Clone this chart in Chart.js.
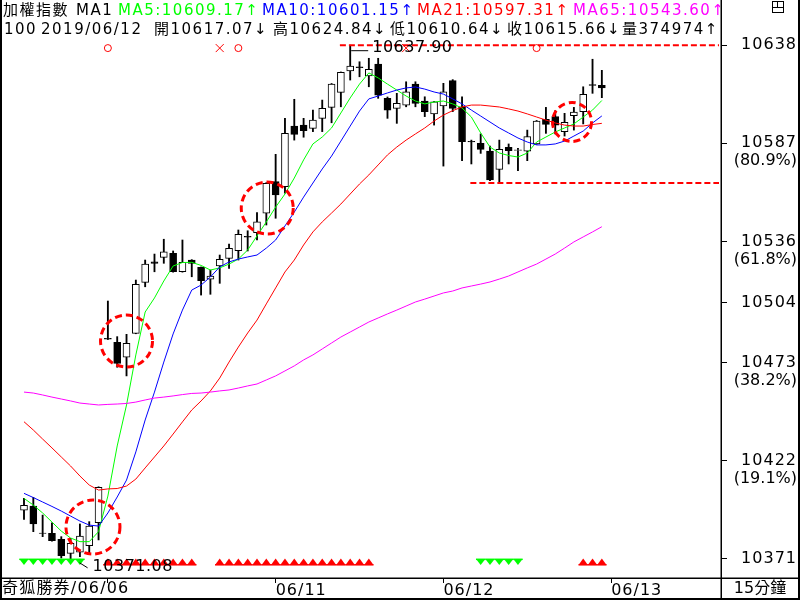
<!DOCTYPE html>
<html><head><meta charset="utf-8">
<script src="https://cdn.jsdelivr.net/npm/chart.js@4.4.1/dist/chart.umd.min.js"></script>
<style>html,body{margin:0;padding:0;background:#fff;overflow:hidden}#wrap{width:800px;height:600px;position:relative}</style>
</head><body><div id="wrap"><canvas id="c" width="800" height="600"></canvas></div>
<script>
// ---------------- DATA ----------------
const candleOpen  = [10396.3,10398.5,10384.5,10384.3,10381.2,10373.9,10374.5,10377.9,10389.8,10485.6,
  10483.6,10475.8,10488.2,10514.7,10525.3,10527.7,10529.8,10520.2,10526.3,10522.5,
  10516.3,10523.2,10527.2,10531.1,10538.6,10540.5,10550.6,10567.0,10564.4,10595.9,
  10596.4,10594.7,10599.9,10605.6,10613.4,10624.5,10626.6,10621.9,10628.1,10610.3,
  10605.1,10606.8,10617.7,10608.9,10602.2,10606.3,10619.5,10605.9,10587.9,10586.9,
  10582.9,10573.4,10584.9,10583.3,10582.9,10586.6,10599.4,10600.8,10593.0,10601.3,
  10603.4,10617.4,10617.07];
const candleHigh  = [10402.5,10403.0,10393.8,10389.8,10382.6,10381.7,10389.2,10390.4,10408.5,10505.0,
  10486.5,10487.7,10515.9,10526.3,10529.4,10537.1,10531.0,10536.7,10526.5,10522.7,
  10521.1,10528.9,10534.6,10541.9,10541.5,10550.9,10566.5,10581.2,10599.9,10609.8,
  10599.9,10604.2,10609.4,10618.0,10624.0,10637.90,10629.3,10631.1,10631.1,10611.0,
  10612.9,10618.9,10618.9,10611.1,10608.7,10618.1,10620.0,10611.1,10588.6,10591.8,
  10585.5,10588.6,10586.6,10584.3,10593.8,10598.8,10605.6,10603.9,10602.5,10605.6,
  10616.3,10630.6,10624.84];
const candleLow   = [10391.6,10385.2,10382.6,10380.3,10371.5,10371.08,10372.2,10373.6,10380.9,10485.0,
  10470.6,10466.1,10488.0,10512.4,10520.2,10524.6,10520.0,10520.0,10517.6,10508.1,
  10508.5,10514.2,10522.0,10526.3,10531.0,10536.7,10544.5,10548.0,10561.0,10588.6,
  10590.1,10593.0,10593.0,10597.6,10605.9,10619.8,10621.5,10616.3,10610.3,10599.9,
  10597.3,10605.9,10605.9,10600.8,10596.4,10575.1,10603.4,10577.9,10576.2,10581.7,
  10567.5,10566.3,10576.2,10572.7,10577.9,10586.4,10592.1,10591.8,10590.7,10593.8,
  10597.0,10612.9,10610.64];
const candleClose = [10398.9,10389.2,10384.3,10380.5,10372.7,10379.1,10382.9,10388.1,10408.2,10485.2,
  10472.6,10483.0,10513.7,10524.2,10524.6,10530.6,10520.2,10525.1,10524.6,10515.6,
  10518.0,10526.7,10532.4,10539.7,10538.2,10546.2,10566.2,10560.1,10592.1,10591.6,
  10593.5,10599.0,10605.1,10617.7,10623.8,10627.1,10626.2,10625.4,10612.0,10604.2,
  10607.7,10613.7,10607.7,10603.4,10608.5,10613.7,10605.1,10587.8,10587.6,10583.8,
  10567.9,10583.8,10583.1,10583.6,10590.4,10598.5,10596.8,10596.4,10597.8,10603.2,
  10612.4,10617.0,10615.66];
const lastVolume = 374974;

const ma5  = [10402.5,10399.0,10394.9,10390.2,10385.5,10381.9,10380.0,10380.0,10385.2,10403.7,
  10429.7,10451.0,10477.0,10499.3,10506.6,10515.4,10523.2,10525.0,10525.1,10523.5,
  10521.1,10522.2,10524.2,10526.8,10531.5,10538.8,10546.1,10553.8,10560.6,10568.9,
  10578.3,10586.6,10590.2,10594.9,10602.7,10610.5,10617.7,10623.5,10620.9,10617.7,
  10614.6,10611.5,10608.9,10607.4,10608.4,10608.9,10607.4,10605.3,10600.6,10592.3,
  10585.0,10581.9,10580.6,10579.8,10581.9,10587.6,10590.2,10592.8,10594.9,10597.0,
  10600.6,10604.2,10609.17];
const ma10 = [10405.1,10402.9,10400.6,10398.3,10395.9,10393.3,10390.7,10388.6,10388.1,10394.9,
  10403.2,10412.0,10426.6,10443.2,10457.7,10473.3,10487.9,10500.3,10510.7,10513.3,
  10517.5,10522.7,10525.3,10526.8,10527.9,10528.9,10532.5,10536.7,10544.0,10551.2,
  10559.0,10566.3,10573.6,10580.3,10588.1,10595.9,10603.7,10610.0,10611.5,10613.1,
  10614.6,10615.7,10616.2,10615.1,10613.6,10612.5,10610.0,10607.4,10604.2,10601.1,
  10598.0,10594.9,10592.3,10589.7,10587.6,10586.1,10586.1,10586.6,10588.1,10590.7,
  10593.3,10597.5,10601.15];
const ma21 = [10442.3,10438.0,10433.3,10428.7,10424.0,10419.3,10414.1,10409.4,10406.8,10407.4,
  10407.6,10408.9,10412.5,10418.3,10424.0,10429.7,10435.9,10442.2,10448.4,10453.1,
  10458.3,10465.0,10473.3,10481.1,10488.4,10495.1,10503.5,10511.8,10520.1,10526.3,
  10534.1,10540.9,10546.1,10550.7,10555.4,10560.6,10565.8,10570.5,10575.7,10580.9,
  10585.0,10588.6,10591.8,10594.9,10598.5,10601.6,10603.9,10605.8,10606.8,10606.8,
  10606.3,10605.8,10604.8,10603.7,10602.2,10600.6,10599.0,10597.5,10596.4,10595.9,
  10595.9,10596.7,10597.31];
const ma65 = [10457.7,10457.2,10456.2,10455.1,10454.1,10453.1,10452.0,10451.5,10451.0,10451.3,
  10451.5,10451.8,10452.5,10453.6,10454.6,10455.1,10455.7,10456.4,10457.0,10457.2,
  10457.7,10458.3,10458.8,10459.8,10460.9,10461.9,10464.0,10466.1,10468.7,10471.3,
  10474.4,10477.0,10480.1,10483.2,10486.3,10488.9,10491.5,10494.1,10496.2,10498.3,
  10500.3,10502.4,10504.5,10506.0,10507.6,10509.2,10510.2,10511.8,10512.8,10513.8,
  10514.9,10516.4,10518.0,10520.1,10522.2,10524.2,10526.8,10529.4,10532.5,10535.7,
  10538.3,10540.9,10543.60];

const yTickValues   = [10638, 10587, 10536, 10504, 10473, 10422, 10371];
const yTickPercents = ['', '(80.9%)', '(61.8%)', '', '(38.2%)', '(19.1%)', ''];
const dateTickIndex = [9, 27, 45, 63];
const dateLabels    = ['06/06', '06/11', '06/12', '06/13'];
const lastDate      = '2019/06/12';

const redUpSignals    = [9,10,11,12,13,14,15,16,17,18,21,22,23,24,25,26,27,28,29,30,31,32,33,34,35,36,37,60,61,62];
const greenDownSignals= [0,1,2,3,4,5,6,49,50,51,52,53];
const topCircleSignals= [9,23,55];
const topCrossSignals = [21,41];

const highIndex = 35, highValue = 10637.90;
const lowIndex = 5,  lowValue = 10371.08;
const supportStartIndex = 48, supportValue = 10566.3;
const highlightCircles = [{i:7.4, v:10387.6}, {i:11, v:10484.2}, {i:26.1, v:10553.3}, {i:58.8, v:10598.0}];
const highlightRadius = [27, 26, 26, 19.5];

// ---------------- CHART ----------------
const FONT = "'DejaVu Sans','Noto Sans CJK TC'";
const n = candleOpen.length;
const idx = candleOpen.map((_, i) => i);
const wickData = idx.map(i => ({x: i, y: [candleLow[i], candleHigh[i]]}));
const bodyData = idx.map(i => ({x: i, y: [candleOpen[i], candleClose[i]]}));
const bodyFill = idx.map(i => candleClose[i] > candleOpen[i] ? '#ffffff' : '#000000');
const lineDs = (data, color) => ({type: 'line', data: idx.map(i => ({x: i, y: data[i]})), borderColor: color,
  borderWidth: 1, pointRadius: 0, fill: false, tension: 0, order: 0});

function drawSpaced(ctx, text, x, y, ls) {
  if ('letterSpacing' in ctx) { ctx.letterSpacing = ls + 'px'; ctx.fillText(text, x, y); const w = ctx.measureText(text).width; ctx.letterSpacing = '0px'; return w; }
  let cx = x; for (const ch of text) { ctx.fillText(ch, cx, y); cx += ctx.measureText(ch).width + ls; } return cx - x;
}

const spacing = {
  id: 'spacing',
  beforeDraw(chart) { if ('letterSpacing' in chart.ctx) chart.ctx.letterSpacing = '1px'; },
  afterDraw(chart) { if ('letterSpacing' in chart.ctx) chart.ctx.letterSpacing = '0px'; }
};

const overlay = {
  id: 'overlay',
  afterDraw(chart) {
    const {ctx, scales: {x, y}} = chart;
    const X = i => x.getPixelForValue(i), Y = v => y.getPixelForValue(v);
    ctx.save();
    if ('letterSpacing' in ctx) ctx.letterSpacing = '0px';
    // dashed level lines
    ctx.strokeStyle = '#ff0000'; ctx.lineWidth = 2; ctx.setLineDash([6, 3]);
    ctx.beginPath(); ctx.moveTo(X(highIndex - 1) - 1, Y(highValue)); ctx.lineTo(719, Y(highValue)); ctx.stroke();
    ctx.beginPath(); ctx.moveTo(X(supportStartIndex) - 1, Y(supportValue)); ctx.lineTo(719, Y(supportValue)); ctx.stroke();
    // highlight circles
    ctx.lineWidth = 3; ctx.setLineDash([7, 4]);
    highlightCircles.forEach((c, k) => { ctx.beginPath(); ctx.arc(X(c.i), Y(c.v), highlightRadius[k], 0, Math.PI * 2); ctx.stroke(); });
    ctx.setLineDash([]);
    // top markers
    ctx.lineWidth = 1; ctx.strokeStyle = '#ff0000';
    const my = Y(10636.4);
    topCircleSignals.forEach(i => { ctx.beginPath(); ctx.arc(X(i), my, 3.5, 0, Math.PI * 2); ctx.stroke(); });
    topCrossSignals.forEach(i => { const cx = X(i); ctx.beginPath(); ctx.moveTo(cx - 4, my - 4); ctx.lineTo(cx + 4, my + 4); ctx.moveTo(cx + 4, my - 4); ctx.lineTo(cx - 4, my + 4); ctx.stroke(); });
    // triangles
    const ty = Y(10369.4);
    ctx.fillStyle = '#ff0000';
    redUpSignals.forEach(i => { const cx = X(i); ctx.beginPath(); ctx.moveTo(cx - 4.7, ty + 3); ctx.lineTo(cx + 4.7, ty + 3); ctx.lineTo(cx, ty - 3.5); ctx.closePath(); ctx.fill(); ctx.fillRect(cx - 4.7, ty + 2, 9.4, 1.5); });
    ctx.fillStyle = '#00ff00';
    greenDownSignals.forEach(i => { const cx = X(i); ctx.beginPath(); ctx.moveTo(cx - 4.7, ty - 3); ctx.lineTo(cx + 4.7, ty - 3); ctx.lineTo(cx, ty + 3); ctx.closePath(); ctx.fill(); ctx.fillRect(cx - 4.7, ty - 3.5, 9.4, 1.5); });
    // high / low labels
    ctx.fillStyle = '#000'; ctx.strokeStyle = '#000'; ctx.lineWidth = 1;
    ctx.font = '16px ' + FONT; ctx.textBaseline = 'middle'; ctx.textAlign = 'left';
    const hx = X(highIndex), hy = Y(highValue);
    ctx.beginPath(); ctx.moveTo(hx + 1, hy + 5.5); ctx.lineTo(hx + 18, hy + 5.5); ctx.stroke();
    drawSpaced(ctx, highValue.toFixed(2), hx + 22, hy + 3, 0.5);
    const lx = X(lowIndex), ly = Y(lowValue);
    ctx.beginPath(); ctx.moveTo(lx + 9, ly + 4); ctx.lineTo(lx + 17, ly + 9); ctx.stroke();
    drawSpaced(ctx, lowValue.toFixed(2), lx + 22, ly + 8, 0.5);
    // percent labels
    ctx.textAlign = 'right';
    yTickValues.forEach((v, k) => { if (yTickPercents[k]) ctx.fillText(yTickPercents[k], 797, Y(v) + 18); });
    // frame
    ctx.fillStyle = '#000';
    ctx.fillRect(0, 0, 2, 600); ctx.fillRect(798, 0, 2, 600); ctx.fillRect(0, 598, 800, 2);
    ctx.fillRect(720.5, 0, 1.5, 600); ctx.fillRect(0, 577.5, 800, 1.5);
    // icon
    ctx.lineWidth = 1; ctx.strokeRect(772.5, 1.5, 11, 11);
    ctx.beginPath(); ctx.moveTo(772.5, 7.5); ctx.lineTo(783.5, 7.5); ctx.moveTo(777.5, 1.5); ctx.lineTo(777.5, 7.5); ctx.stroke();
    // bottom texts
    ctx.textAlign = 'left';
    drawSpaced(ctx, '奇狐勝券/' + dateLabels[0], 2, 589, 1.2);
    ctx.textAlign = 'center';
    ctx.fillText('15分鐘', 760, 589);
    // header
    ctx.beginPath(); ctx.rect(0, 0, 720, 40); ctx.clip();
    ctx.textAlign = 'left';
    ctx.font = '15px ' + FONT;
    const L = n - 1;
    const seg1 = [['加權指數', '#000', 3], ['MA1', '#000', 76], ['MA5:' + ma5[L].toFixed(2) + '↑', '#00ff00', 118], ['MA10:' + ma10[L].toFixed(2) + '↑', '#0000ff', 262],
      ['MA21:' + ma21[L].toFixed(2) + '↑', '#ff0000', 417], ['MA65:' + ma65[L].toFixed(2) + '↑', '#ff00ff', 573]];
    seg1.forEach(s => { ctx.fillStyle = s[1]; drawSpaced(ctx, s[0], s[2], 11, 1.5); });
    ctx.fillStyle = '#000';
    const seg2 = [['100', 4], [lastDate, 41], ['開' + candleOpen[L].toFixed(2) + '↓', 154], ['高' + candleHigh[L].toFixed(2) + '↓', 273],
      ['低' + candleLow[L].toFixed(2) + '↓', 390], ['收' + candleClose[L].toFixed(2) + '↓', 507], ['量' + lastVolume + '↑', 622]];
    seg2.forEach(s => drawSpaced(ctx, s[0], s[1], 30, 1.5));
    ctx.restore();
  }
};

new Chart(document.getElementById('c'), {
  type: 'bar',
  data: {
    datasets: [
      lineDs(ma65, '#ff00ff'), lineDs(ma21, '#ff0000'), lineDs(ma10, '#0000ff'), lineDs(ma5, '#00ff00'),
      {type: 'bar', data: bodyData, backgroundColor: bodyFill, borderColor: '#000', borderWidth: 1, borderSkipped: false,
        barThickness: 7, grouped: false, order: 1},
      {type: 'bar', data: wickData, backgroundColor: '#000', borderWidth: 0, barThickness: 1.2, grouped: false, order: 2}
    ]
  },
  options: {
    animation: false, responsive: false, maintainAspectRatio: false,
    layout: {padding: {left: 2, top: 40, right: 3, bottom: 1}},
    plugins: {legend: {display: false}, tooltip: {enabled: false}},
    scales: {
      x: {type: 'linear', min: -2.3605, max: 74.785, position: 'bottom', offset: false,
        afterBuildTicks: s => { s.ticks = dateTickIndex.map(v => ({value: v})); },
        afterFit: s => { s.height = 21; },
        ticks: {autoSkip: false, maxRotation: 0, align: 'start', padding: -2, color: '#000', font: {family: FONT, size: 16},
          callback: (v, k) => k === 0 ? '' : dateLabels[k]},
        grid: {drawOnChartArea: false, drawTicks: true, tickLength: 5, color: '#000', offset: false},
        border: {display: true, color: '#000'}
      },
      y: {type: 'linear', position: 'right', min: 10361.12, max: 10640.6,
        afterBuildTicks: s => { s.ticks = yTickValues.map(v => ({value: v})); },
        afterFit: s => { s.width = 76; },
        ticks: {crossAlign: 'far', color: '#000', font: {family: FONT, size: 16}, padding: 2, callback: v => String(v)},
        grid: {drawOnChartArea: false, drawTicks: true, tickLength: 6, color: '#000'},
        border: {display: true, color: '#000'}
      }
    }
  },
  plugins: [spacing, overlay]
});
</script></body></html>
